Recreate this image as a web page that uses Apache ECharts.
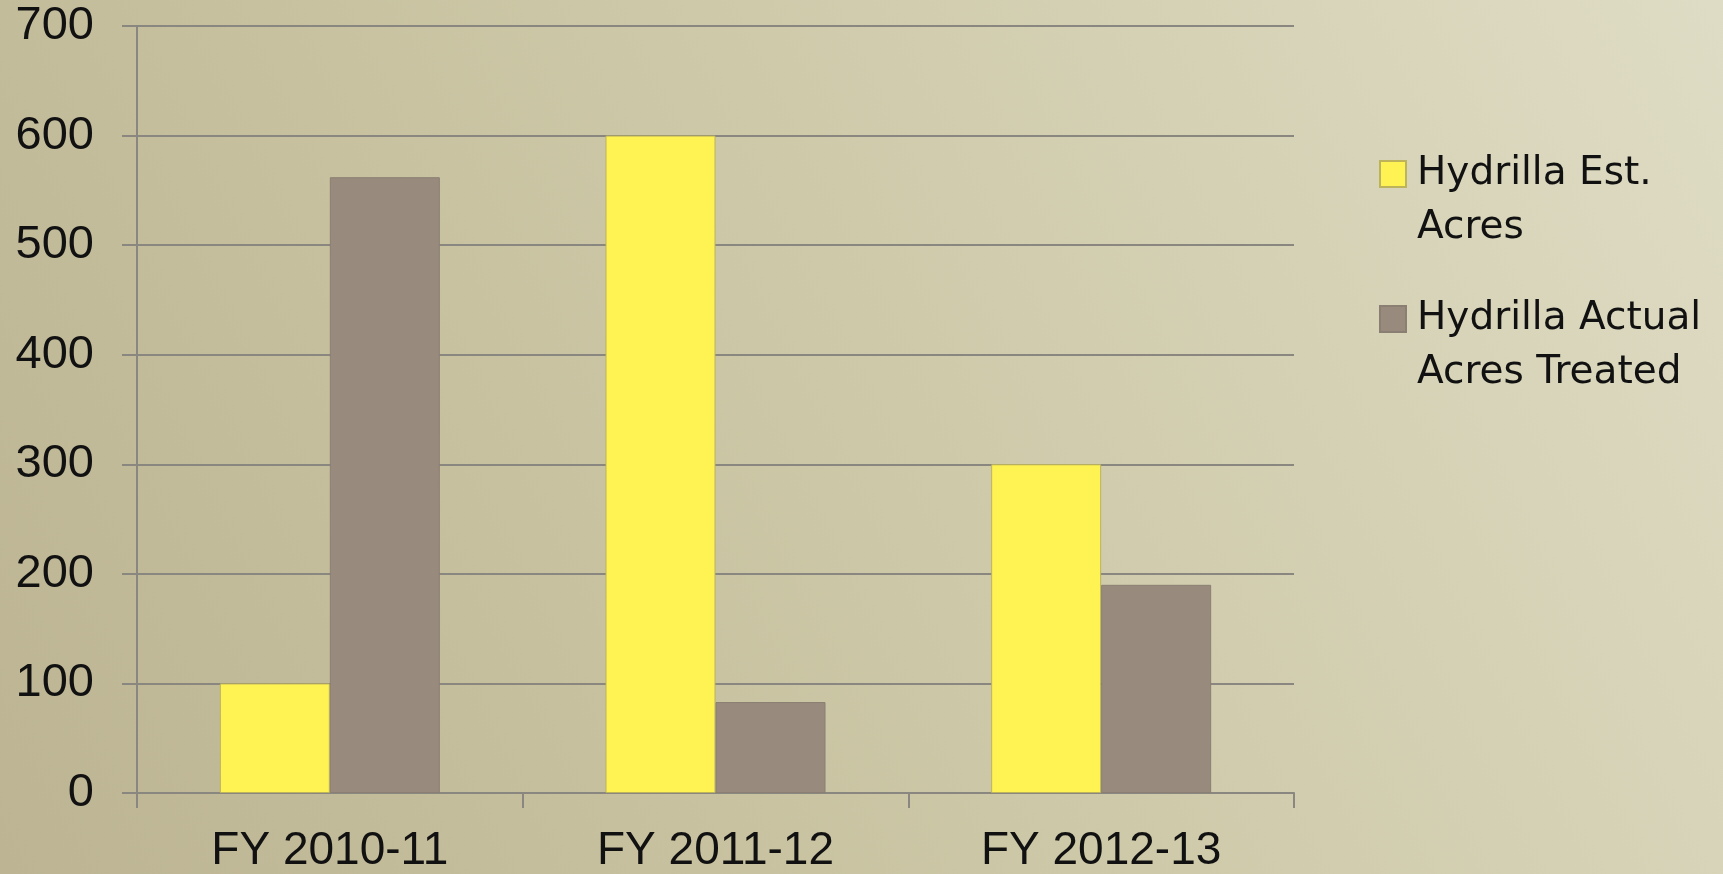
<!DOCTYPE html>
<html>
<head>
<meta charset="utf-8">
<title>Hydrilla acres</title>
<script src="https://cdn.jsdelivr.net/npm/echarts@6/dist/echarts.min.js"></script>
<style>
  html, body { margin: 0; padding: 0; }
  #main { width: 1723px; height: 874px; }
</style>
</head>
<body>
<div id="main"></div>
<script>
// chart data
var years = ['FY 2010-11', 'FY 2011-12', 'FY 2012-13'];
var estAcres = [100, 600, 300];
var treatedAcres = [562, 83, 190];
var seriesNames = ['Hydrilla Est.\nAcres', 'Hydrilla Actual\nAcres Treated'];

var chart = echarts.init(document.getElementById('main'));

// one legend per entry; leading blank line puts the square beside the first text line
function legendFor(name, top){
    return {
        orient: 'vertical',
        left: 1379,
        top: top,
        padding: 0,
        itemWidth: 26,
        itemHeight: 26,
        icon: 'rect',
        formatter: function(n){ return '\n' + n; },
        textStyle: {
            fontFamily: 'DejaVu Sans',
            fontSize: 39,
            lineHeight: 54,
            color: '#111',
            padding: [0, 0, 0, 6]
        },
        data: [name]
    };
}

chart.setOption({
    animation: false,
    backgroundColor: {
        type: 'linear', x: 1, y: 0, x2: 0, y2: 1,
        colorStops: [
            {offset: 0, color: '#dfdcc5'},
            {offset: 0.5, color: '#cdc8a7'},
            {offset: 1, color: '#bcb493'}
        ]
    },
    grid: {left: 137, right: 429, top: 26, bottom: 77},
    legend: [legendFor(seriesNames[0], 93), legendFor(seriesNames[1], 238)],
    xAxis: {
        type: 'category',
        data: years,
        axisLine: {lineStyle: {color: '#8a8780', width: 2}},
        axisTick: {show: true, length: 15, lineStyle: {color: '#8a8780', width: 2}},
        axisLabel: {
            fontFamily: 'Liberation Sans',
            fontSize: 46,
            color: '#111',
            margin: 35
        }
    },
    yAxis: {
        type: 'value',
        min: 0,
        max: 700,
        interval: 100,
        axisLine: {show: true, lineStyle: {color: '#8a8780', width: 2}},
        axisTick: {show: true, length: 15, lineStyle: {color: '#8a8780', width: 2}},
        splitLine: {lineStyle: {color: '#8a8780', width: 2}},
        axisLabel: {
            fontFamily: 'Liberation Sans',
            fontSize: 47,
            color: '#111',
            margin: 43
        }
    },
    series: [
        {
            name: seriesNames[0],
            type: 'bar',
            data: estAcres,
            barWidth: 110,
            barGap: '0%',
            itemStyle: {color: '#fff253', borderColor: '#bdb35a', borderWidth: 1}
        },
        {
            name: seriesNames[1],
            type: 'bar',
            data: treatedAcres,
            barWidth: 110,
            itemStyle: {color: '#988b7d', borderColor: '#8a7f72', borderWidth: 1}
        }
    ]
});
</script>
</body>
</html>
